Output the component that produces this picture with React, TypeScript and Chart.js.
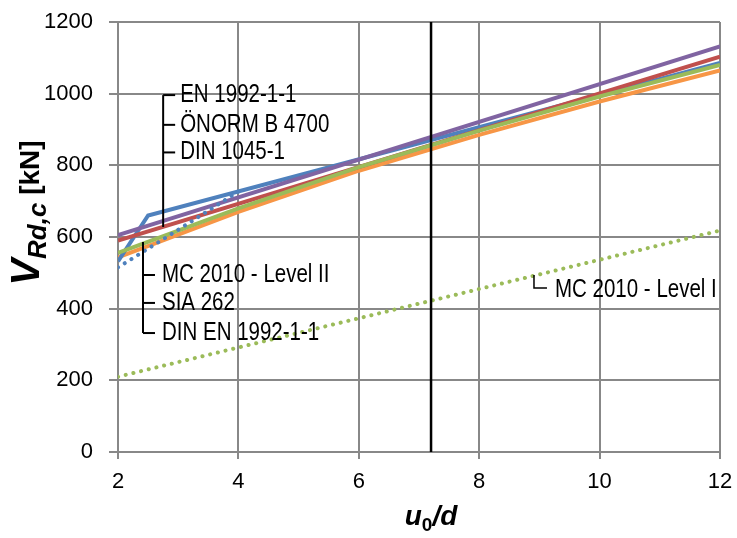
import React, { useEffect, useRef } from "react";
import { Chart, registerables } from "chart.js";

Chart.register(...registerables);

// x values (u0/d)
const xRange = [2, 12];
const xCurve = [2, 4, 6, 8, 10, 12];
const xBlueKink = [2, 2.5, 12];
const xBlueDotted = [2, 3, 4];

// series values (kN)
const purple = [605, 1132]; // EN 1992-1-1
const red = [590, 1103]; // ÖNORM B 4700
const blueSolid = [532, 660, 1086]; // DIN 1045-1
const blueDotted = [515, 620, 727]; // MC 2010 - Level II (merges with DIN 1045-1 beyond 4)
const green = [556, 680, 795, 897, 992, 1080]; // SIA 262
const orange = [543, 670, 785, 885, 978, 1065]; // DIN EN 1992-1-1
const greenDotted = [210, 618]; // MC 2010 - Level I
const verticalLineX = 7.2;

const xTicks = [2, 4, 6, 8, 10, 12];
const yTicks = [0, 200, 400, 600, 800, 1000, 1200];

const topLabels = ["EN 1992-1-1", "ÖNORM B 4700", "DIN 1045-1"];
const topLabelY = [996, 913, 836];
const topBracketX = 2.75;
const topBracketBottom = 628;

const bottomLabels = ["MC 2010 - Level II", "SIA 262", "DIN EN 1992-1-1"];
const bottomLabelY = [494, 416, 332];
const bottomBracketX = 2.415;
const bottomBracketTop = 586;

const levelILabel = "MC 2010 - Level I";
const levelIBracketX = 8.91;
const levelIBracketY = [494, 458];

const BLUE = "#4F81BD";
const RED = "#C0504D";
const GREEN = "#9BBB59";
const PURPLE = "#8064A2";
const ORANGE = "#F79646";
const GRID = "#888888";
const SANS = "'Liberation Sans', Arial, sans-serif";

function pts(xs: number[], ys: number[]) {
  return xs.map((x, i) => ({ x, y: ys[i] }));
}

function narrowText(ctx: CanvasRenderingContext2D, text: string, x: number, y: number, size: number) {
  ctx.save();
  ctx.font = `${size}px ${SANS}`;
  ctx.textBaseline = "middle";
  ctx.textAlign = "left";
  ctx.fillStyle = "#000";
  ctx.translate(x, y);
  ctx.scale(0.82, 1);
  ctx.fillText(text, 0, 0);
  ctx.restore();
}

const annotationPlugin = {
  id: "annotations",
  afterDatasetsDraw(chart: any) {
    const ctx: CanvasRenderingContext2D = chart.ctx;
    const xs = chart.scales.x;
    const ys = chart.scales.y;
    const area = chart.chartArea;
    ctx.save();
    const vx = xs.getPixelForValue(verticalLineX);
    ctx.strokeStyle = "#000";
    ctx.lineWidth = 2.5;
    ctx.beginPath();
    ctx.moveTo(vx, area.top);
    ctx.lineTo(vx, area.bottom);
    ctx.stroke();

    ctx.lineWidth = 2;
    const tx = xs.getPixelForValue(topBracketX);
    ctx.beginPath();
    ctx.moveTo(tx, ys.getPixelForValue(topLabelY[0]));
    ctx.lineTo(tx, ys.getPixelForValue(topBracketBottom));
    ctx.stroke();
    topLabels.forEach((t, i) => {
      const py = ys.getPixelForValue(topLabelY[i]);
      ctx.beginPath();
      ctx.moveTo(tx, py);
      ctx.lineTo(tx + 12, py);
      ctx.stroke();
      narrowText(ctx, t, tx + 17, py, 25);
    });
    const bx = xs.getPixelForValue(bottomBracketX);
    ctx.beginPath();
    ctx.moveTo(bx, ys.getPixelForValue(bottomBracketTop));
    ctx.lineTo(bx, ys.getPixelForValue(bottomLabelY[2]));
    ctx.stroke();
    bottomLabels.forEach((t, i) => {
      const py = ys.getPixelForValue(bottomLabelY[i]);
      ctx.beginPath();
      ctx.moveTo(bx, py);
      ctx.lineTo(bx + 12, py);
      ctx.stroke();
      narrowText(ctx, t, bx + 19, py, 25);
    });
    const lx = xs.getPixelForValue(levelIBracketX);
    const ly0 = ys.getPixelForValue(levelIBracketY[0]);
    const ly1 = ys.getPixelForValue(levelIBracketY[1]);
    ctx.lineWidth = 1.5;
    ctx.beginPath();
    ctx.moveTo(lx, ly0);
    ctx.lineTo(lx, ly1);
    ctx.lineTo(lx + 13, ly1);
    ctx.stroke();
    narrowText(ctx, levelILabel, lx + 21, ly1 + 2, 25);
    ctx.restore();
  },
  afterDraw(chart: any) {
    const ctx: CanvasRenderingContext2D = chart.ctx;
    const xs = chart.scales.x;
    const area = chart.chartArea;
    ctx.save();
    ctx.fillStyle = "#000";
    ctx.textBaseline = "alphabetic";
    ctx.textAlign = "left";
    const parts = [
      { t: "V", f: `italic bold 40px ${SANS}`, dy: 0 },
      { t: "Rd,c", f: `italic bold 26px ${SANS}`, dy: 7 },
      { t: " [kN]", f: `bold 28px ${SANS}`, dy: 0 },
    ];
    let total = 0;
    parts.forEach((p) => {
      ctx.font = p.f;
      total += ctx.measureText(p.t).width;
    });
    ctx.translate(39, 213);
    ctx.rotate(-Math.PI / 2);
    let cx = -total / 2;
    parts.forEach((p) => {
      ctx.font = p.f;
      ctx.fillText(p.t, cx, p.dy);
      cx += ctx.measureText(p.t).width;
    });
    ctx.restore();

    ctx.save();
    ctx.fillStyle = "#000";
    const xparts = [
      { t: "u", f: `italic bold 28px ${SANS}`, dy: 0 },
      { t: "0", f: `bold 19px ${SANS}`, dy: 6 },
      { t: "/d", f: `italic bold 28px ${SANS}`, dy: 0 },
    ];
    let xt = 0;
    xparts.forEach((p) => {
      ctx.font = p.f;
      xt += ctx.measureText(p.t).width;
    });
    let px = xs.getPixelForValue(verticalLineX) - xt / 2;
    const baseY = area.bottom + 73;
    xparts.forEach((p) => {
      ctx.font = p.f;
      ctx.fillText(p.t, px, baseY + p.dy);
      px += ctx.measureText(p.t).width;
    });
    ctx.restore();
  },
};

export default function App() {
  const ref = useRef<HTMLCanvasElement>(null);
  useEffect(() => {
    if (!ref.current) return;
    const line = (data: any, color: string, order: number, dotted = false) => ({
      data,
      borderColor: color,
      backgroundColor: color,
      borderWidth: 4,
      borderDash: dotted ? [0.1, 7.8] : [],
      borderCapStyle: dotted ? "round" : "butt",
      pointRadius: 0,
      fill: false,
      tension: 0,
      order,
      showLine: true,
    });
    const chart = new Chart(ref.current, {
      type: "scatter",
      data: {
        datasets: [
          line(pts(xRange, greenDotted), GREEN, 8, true),
          line(pts(xCurve, orange), ORANGE, 7),
          line(pts(xBlueKink, blueSolid), BLUE, 6),
          line(pts(xRange, red), RED, 5),
          line(pts(xCurve, green), GREEN, 4),
          line(pts(xRange, purple), PURPLE, 3),
          line(pts(xBlueDotted, blueDotted), BLUE, 1, true),
        ],
      },
      options: {
        animation: false,
        responsive: false,
        layout: { padding: { left: 0, right: 17, top: 22, bottom: 0 } },
        plugins: { legend: { display: false }, tooltip: { enabled: false } },
        scales: {
          x: {
            type: "linear",
            min: xRange[0],
            max: xRange[1],
            afterFit: (s: any) => {
              s.height = 86;
              s.paddingLeft = 0;
              s.paddingRight = 0;
            },
            afterBuildTicks: (s: any) => {
              s.ticks = xTicks.map((v) => ({ value: v }));
            },
            grid: { color: GRID, lineWidth: 2, tickLength: 7, drawTicks: true },
            border: { color: GRID, width: 2 },
            ticks: {
              color: "#000",
              font: { family: SANS, size: 22 },
              padding: 10,
              maxRotation: 0,
              callback: (v: any) => String(v),
            },
          },
          y: {
            type: "linear",
            min: 0,
            max: 1200,
            afterFit: (s: any) => {
              s.width = 118;
              s.paddingTop = 0;
              s.paddingBottom = 0;
            },
            afterBuildTicks: (s: any) => {
              s.ticks = yTicks.map((v) => ({ value: v }));
            },
            grid: { color: GRID, lineWidth: 2, tickLength: 9, drawTicks: true },
            border: { color: GRID, width: 2 },
            ticks: {
              color: "#000",
              font: { family: SANS, size: 22 },
              padding: 16,
              callback: (v: any) => String(v),
            },
          },
        },
      },
      plugins: [annotationPlugin],
    } as any);
    return () => chart.destroy();
  }, []);
  return (
    <div style={{ position: "absolute", left: 0, top: 0, width: 737, height: 538, background: "#fff" }}>
      <canvas ref={ref} width={737} height={538} />
    </div>
  );
}
